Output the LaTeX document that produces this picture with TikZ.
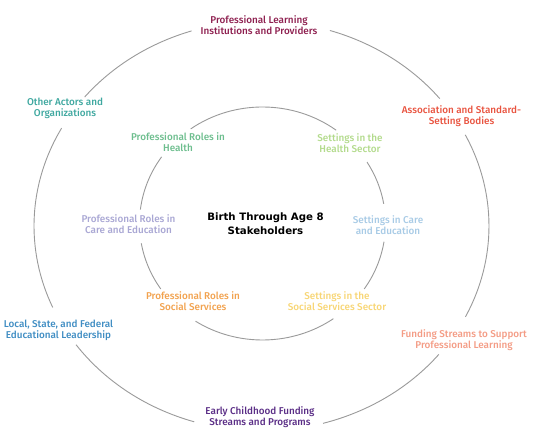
\documentclass[tikz,border=0pt]{standalone}
\usepackage{fontspec}
\setmainfont{Fira Sans}[UprightFont={* Medium}]
\newfontfamily\hubfont{DejaVu Sans}
\definecolor{cmaroon}{HTML}{8E1F4F}
\definecolor{cteal}{HTML}{3FA8A0}
\definecolor{cred}{HTML}{E9533F}
\definecolor{cgreen}{HTML}{6DBE8E}
\definecolor{clgreen}{HTML}{B3DB8C}
\definecolor{clav}{HTML}{A9A7D4}
\definecolor{clblue}{HTML}{A8CBE6}
\definecolor{corange}{HTML}{F2A24E}
\definecolor{cyellow}{HTML}{F8D675}
\definecolor{cblue}{HTML}{3F8DC3}
\definecolor{csalmon}{HTML}{F49C85}
\definecolor{cpurple}{HTML}{5A2D86}
\definecolor{cring}{HTML}{9A9A9A}
\begin{document}
\begin{tikzpicture}[x=1pt,y=1pt,
  ring/.style={draw=cring,line width=0.9pt},
  lbl/.style={align=center,inner sep=0pt,font=\fontsize{9.9}{10.8}\selectfont},
  hub/.style={align=center,inner sep=0pt,font=\hubfont\bfseries\fontsize{10.2}{13.6}\selectfont}]
\useasboundingbox[fill=white] (0,0) rectangle (533,443);
\coordinate (O) at (261.5,217);
\coordinate (I) at (262.5,219.5);
% outer ring arcs
\begin{scope}[shift={(O)}]
\draw[ring] (72.5:227.5pt and 205pt) arc[start angle=72.5,end angle=38.4,x radius=227.5pt,y radius=205pt];
\draw[ring] (26.4:227.5pt and 205pt) arc[start angle=26.4,end angle=-26.3,x radius=227.5pt,y radius=205pt];
\draw[ring] (-38.8:227.5pt and 205pt) arc[start angle=-38.8,end angle=-74.3,x radius=227.5pt,y radius=205pt];
\draw[ring] (-107.2:227.5pt and 205pt) arc[start angle=-107.2,end angle=-144.6,x radius=227.5pt,y radius=205pt];
\draw[ring] (-156.6:227.5pt and 205pt) arc[start angle=-156.6,end angle=-208.5,x radius=227.5pt,y radius=205pt];
\draw[ring] (141:227.5pt and 205pt) arc[start angle=141,end angle=107.9,x radius=227.5pt,y radius=205pt];
\end{scope}
% inner ring arcs
\begin{scope}[shift={(I)}]
\draw[ring] (53.2:123pt and 116.5pt) arc[start angle=53.2,end angle=125.7,x radius=123pt,y radius=116.5pt];
\draw[ring] (31.8:123pt and 116.5pt) arc[start angle=31.8,end angle=9.7,x radius=123pt,y radius=116.5pt];
\draw[ring] (-9:123pt and 116.5pt) arc[start angle=-9,end angle=-34.2,x radius=123pt,y radius=116.5pt];
\draw[ring] (-54.8:123pt and 116.5pt) arc[start angle=-54.8,end angle=-123,x radius=123pt,y radius=116.5pt];
\draw[ring] (-145.8:123pt and 116.5pt) arc[start angle=-145.8,end angle=-170.2,x radius=123pt,y radius=116.5pt];
\draw[ring] (173.1:123pt and 116.5pt) arc[start angle=173.1,end angle=145.1,x radius=123pt,y radius=116.5pt];
\end{scope}
% labels
\node[lbl,text=cmaroon] (plip) at (259,418) {Professional Learning\\Institutions and Providers};
\node[lbl,text=cteal] (other) at (65,335) {Other Actors and\\Organizations};
\node[lbl,text=cred] (assoc) at (461.5,327) {Association and Standard-\\Setting Bodies};
\node[lbl,text=cgreen] (prh) at (178,301) {Professional Roles in\\Health};
\node[lbl,text=clgreen] (sh) at (350,299.5) {Settings in the\\Health Sector};
\node[lbl,text=clav] (prce) at (128.5,219) {Professional Roles in\\Care and Education};
\node[hub] (hub) at (265.5,219) {Birth Through Age 8\\Stakeholders};
\node[lbl,text=clblue] (sce) at (388,218) {Settings in Care\\and Education};
\node[lbl,text=corange] (prss) at (193,142) {Professional Roles in\\Social Services};
\node[lbl,text=cyellow] (sss) at (337,142) {Settings in the\\Social Services Sector};
\node[lbl,text=cblue] (local) at (58.5,112.5) {Local, State, and Federal\\Educational Leadership};
\node[lbl,text=csalmon] (fund) at (464,103) {Funding Streams to Support\\Professional Learning};
\node[lbl,text=cpurple] (early) at (260,26) {Early Childhood Funding\\Streams and Programs};
\end{tikzpicture}
\end{document}
